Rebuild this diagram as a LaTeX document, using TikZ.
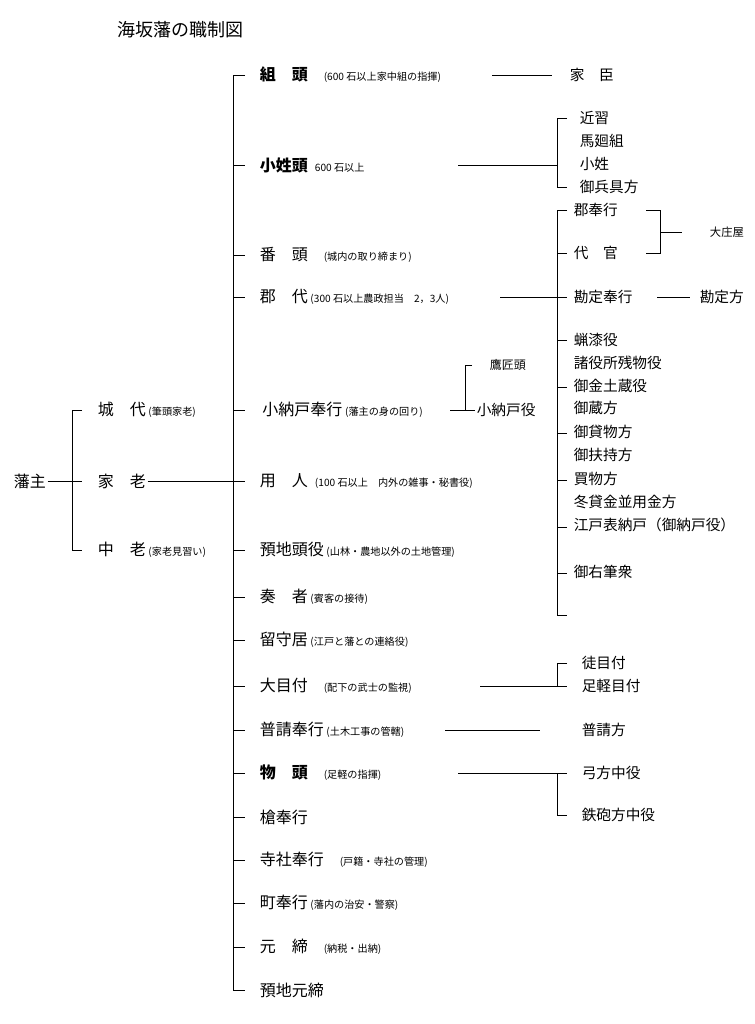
\documentclass[tikz,border=0pt]{standalone}
\usepackage{fontspec}
\setmainfont{Noto Sans CJK JP}
\usetikzlibrary{positioning}
\newcommand\notesz{\fontsize{7.6}{7.6}\selectfont}

\begin{document}
\begin{tikzpicture}[x=0.75pt, y=-0.75pt, line width=0.7pt,
  role/.style={anchor=west, inner sep=1pt, font=\fontsize{12}{12}\selectfont},
  sub/.style={anchor=west, inner sep=1pt, font=\fontsize{11}{11}\selectfont}]
\useasboundingbox (0,0) rectangle (754,1024);

% Title
\node[anchor=west, font=\fontsize{13.5}{13.5}\selectfont] (title) at (113,30) {海坂藩の職制図};

% Lord and the three elders
\node[role] (lord) at (12,481) {藩主};
\node[role] (jodai) at (96,410) {城　代\,{\notesz(筆頭家老)}};
\node[role] (karo) at (96,481) {家　老};
\node[role] (churo) at (96,550) {中　老\,{\notesz(家老見習い)}};
\coordinate (lspine) at (72,481);
\draw (lord) -- (82,481);
\draw (82,410) -- (72,410) -- (72,550) -- (82,550);

% Main spine
\coordinate (mtop) at (233,75);
\coordinate (mbot) at (233,990);
\draw (245,75) -- (mtop) -- (mbot) -- (245,990);
\draw (karo) -- (245,481);

% Offices under the elders
\foreach \y/\name/\txt in {
  75/kumi/{\bfseries 組　頭}\quad{\notesz(600 石以上家中組の指揮)},
  165/kosho/{\bfseries 小姓頭}\ \ {\notesz 600 石以上},
  255/ban/番　頭\quad{\notesz(城内の取り締まり)},
  297/gundai/郡　代\,{\notesz(300 石以上農政担当　2，3人)},
  410/konando/\,小納戸奉行\,{\notesz(藩主の身の回り)},
  481/yonin/用　人\ \ {\notesz(100 石以上　内外の雑事・秘書役)},
  550/azuke/預地頭役\,{\notesz(山林・農地以外の土地管理)},
  597/sosha/奏　者\,{\notesz(賓客の接待)},
  640/rusui/留守居\,{\notesz(江戸と藩との連絡役)},
  686/ometsuke/大目付\quad{\notesz(配下の武士の監視)},
  730/fushin/普請奉行\,{\notesz(土木工事の管轄)},
  773/monogashira/{\bfseries 物　頭}\quad{\notesz(足軽の指揮)},
  817/yari/槍奉行,
  860/jisha/寺社奉行\quad{\notesz(戸籍・寺社の管理)},
  903/machi/町奉行\,{\notesz(藩内の治安・警察)},
  947/motojime/元　締\quad{\notesz(納税・出納)},
  990/azukemoto/預地元締}
{
  \node[role] (\name) at (258,\y) {\txt};
  \draw (233,\y) -- (245,\y);
}

% Retainers
\node[sub] (kashin) at (568,75) {家　臣};
\draw (492,75) -- (552,75);

% Pages
\foreach \y/\name/\txt in {118/kinju/近習, 141/umamawari/馬廻組, 164/kosho2/小姓, 187/hyogu/御兵具方}
  \node[sub] (\name) at (578,\y) {\txt};
\draw (458,165) -- (557,165);
\draw (567,118) -- (557,118) -- (557,187) -- (567,187);

% Right spine
\draw (567,210) -- (557,210) -- (557,615) -- (567,615);
\foreach \y in {253,297,340,387,433,480,527,573}
  \draw (557,\y) -- (567,\y);
\foreach \y/\name/\txt in {
  210/kori/郡奉行, 253/daikan/代　官, 297/kanjo/勘定奉行,
  340/rosshitsu/蝋漆役, 363/shoyaku/諸役所残物役, 386/kinkura/御金土蔵役,
  408/okura/御蔵方, 432/kashimono/御貸物方, 455/fuchi/御扶持方,
  479/kaimono/買物方, 502/fuyugashi/冬貸金並用金方,
  525/edonando/江戸表納戸（御納戸役）, 572/yuhitsu/御右筆衆}
  \node[sub] (\name) at (572,\y) {\txt};
\draw (500,297) -- (557,297);

% Village headmen
\node[anchor=west, font=\fontsize{8.5}{8.5}\selectfont] (shoya) at (705,232) {大庄屋};
\draw (646,210) -- (660,210) -- (660,253) -- (646,253);
\draw (660,232) -- (682,232);

% Accounts
\node[sub] (kanjokata) at (698,297) {勘定方};
\draw (657,297) -- (690,297);

% Falconers
\node[sub, font=\fontsize{9}{9}\selectfont] (takajo) at (488,365) {鷹匠頭};
\node[sub] (konandoyaku) at (475,410) {小納戸役};
\draw (450,410) -- (konandoyaku);
\draw (472,365) -- (465,365) -- (465,410);

% Inspectors
\node[sub] (kachi) at (580,663) {徒目付};
\node[sub] (ashigaru) at (580,686) {足軽目付};
\draw (480,686) -- (557,686);
\draw (567,663) -- (557,663) -- (557,686) -- (567,686);

% Construction
\node[sub] (fushinkata) at (580,730) {普請方};
\draw (445,730) -- (540,730);

% Bow and gun
\node[sub] (yumi) at (580,773) {弓方中役};
\node[sub] (teppo) at (580,815) {鉄砲方中役};
\draw (458,773) -- (567,773);
\draw (557,773) -- (557,815) -- (567,815);
\end{tikzpicture}
\end{document}
